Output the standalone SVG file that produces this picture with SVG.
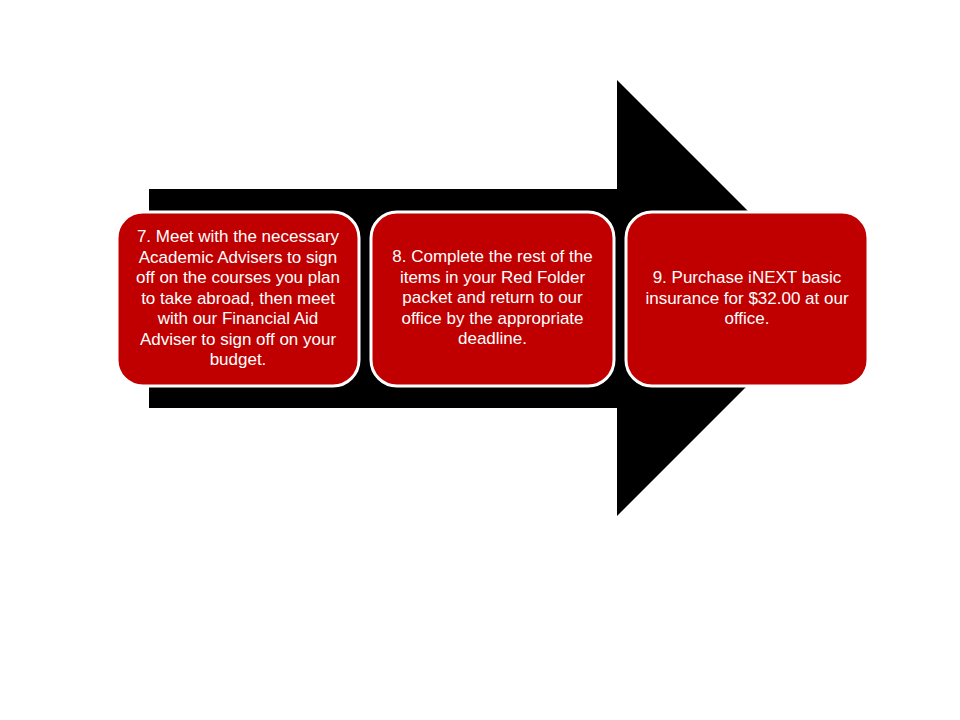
<svg xmlns="http://www.w3.org/2000/svg" width="960" height="720" viewBox="0 0 960 720">
<style>
.box{fill:#C00000;stroke:#FFFFFF;stroke-width:3}
.t{font-family:"Liberation Sans",Arial,sans-serif;font-size:17px;fill:#FFFFFF;text-anchor:middle}
</style>
<rect width="960" height="720" fill="#FFFFFF"/>
<g id="arrow">
<polygon points="149,189 617,189 617,80 835,298 617,516 617,408 149,408" fill="#000000"/>
</g>
<g id="step7">
<rect class="box" x="117" y="212" width="242" height="174" rx="26" ry="26"/>
<text class="t"><tspan x="238" y="242">7. Meet with the necessary</tspan><tspan x="238" y="262.5">Academic Advisers to sign</tspan><tspan x="238" y="283">off on the courses you plan</tspan><tspan x="238" y="303.5">to take abroad, then meet</tspan><tspan x="238" y="324">with our Financial Aid</tspan><tspan x="238" y="344.5">Adviser to sign off on your</tspan><tspan x="238" y="365">budget.</tspan></text>
</g>
<g id="step8">
<rect class="box" x="371" y="212" width="243" height="174" rx="26" ry="26"/>
<text class="t"><tspan x="492.5" y="262">8. Complete the rest of the</tspan><tspan x="492.5" y="282.5">items in your Red Folder</tspan><tspan x="492.5" y="303">packet and return to our</tspan><tspan x="492.5" y="323.5">office by the appropriate</tspan><tspan x="492.5" y="344">deadline.</tspan></text>
</g>
<g id="step9">
<rect class="box" x="626" y="212" width="242" height="174" rx="26" ry="26"/>
<text class="t"><tspan x="747" y="283">9. Purchase iNEXT basic</tspan><tspan x="747" y="303.5">insurance for $32.00 at our</tspan><tspan x="747" y="324">office.</tspan></text>
</g>
<g id="connectors"></g>
</svg>
